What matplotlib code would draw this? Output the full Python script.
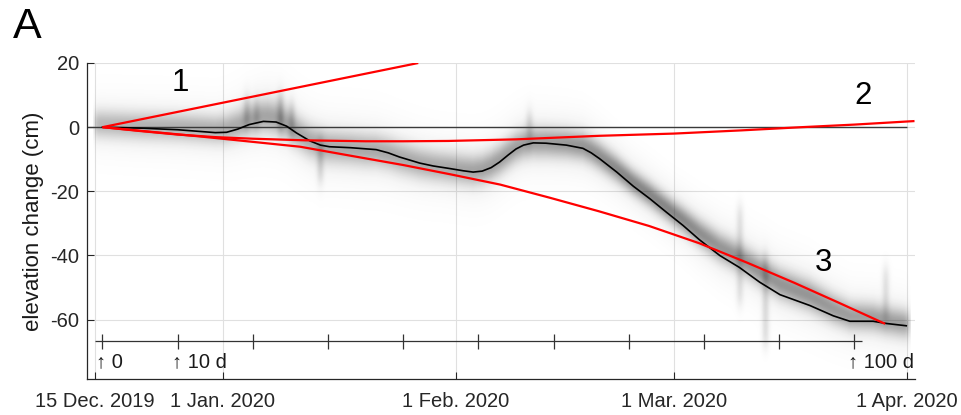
import numpy as np
import matplotlib
matplotlib.use("Agg")
import matplotlib.pyplot as plt
import matplotlib.dates as mdates
from datetime import datetime

plt.rcParams['font.family'] = ['Liberation Sans', 'DejaVu Sans']
plt.rcParams['axes.unicode_minus'] = False

# ---------------------------------------------------------------- data
# day 0 of the record
START = datetime(2019, 12, 16)

# smoothed elevation change: days since start, cm
curve_day = [0, 5, 10, 15, 16.5, 18, 19.5, 21.4, 23.1, 24.5, 25.8, 27.6, 29.0,
             30.2, 33.0, 36.4, 38.0, 39.5, 42.2, 44.0, 46.2, 48.0, 49.3, 50.5,
             51.7, 52.8, 54.0, 55.0, 56.0, 57.3, 59.0, 61.7, 63.9, 65.0, 66.1,
             68.4, 70.6, 72.8, 75.0, 77.2, 79.4, 82.1, 84.7, 87.4, 90.1, 94.1,
             97.2, 99.4, 102.5, 104.3, 106.9]
curve_cm = [0, -0.3, -0.8, -1.7, -1.6, -0.6, 0.8, 1.8, 1.6, 0.3, -1.8, -4.3,
            -5.6, -6.1, -6.4, -7.0, -8.0, -9.3, -11.2, -12.1, -12.9, -13.6,
            -14.0, -13.7, -12.6, -10.9, -8.6, -6.8, -5.6, -4.9, -5.0, -5.6,
            -6.6, -8.0, -9.8, -14.0, -18.4, -22.3, -26.5, -30.6, -35.1, -40.0,
            -43.7, -48.3, -52.2, -55.6, -58.8, -60.5, -60.5, -61.2, -61.9]

# model 1: steady uplift
model1_day = [0, 42]
model1_cm = [0, 20]

# model 2: early settling followed by slow recovery
model2_day = [0, 5, 10, 15, 20, 27, 35, 40, 46, 55, 60, 66, 76, 85, 93, 100, 108]
model2_cm = [0, -1.2, -2.3, -3.1, -3.6, -4.1, -4.4, -4.4, -4.3, -3.8, -3.3,
             -2.7, -2.0, -1.0, 0.0, 0.8, 1.9]

# model 3: accelerating subsidence
model3_day = [0, 13, 26.3, 33, 40, 46.5, 52.9, 59.5, 66, 72.7, 79.4, 85.7, 92,
              98, 104.1]
model3_cm = [0, -2.9, -6.1, -8.9, -11.8, -14.8, -17.9, -22.0, -26.2, -30.8,
             -36.2, -42.2, -48.5, -54.8, -61.3]

# scatter of the individual measurements around the smoothed curve
spread_day = [-1, 5, 15, 22, 27, 35, 45, 52, 58, 64, 70, 76, 82, 88, 94, 100, 107]
spread_shift = [0.8, 0.5, 0.8, 1.5, 0.0, -0.5, 0.0, 0.5, 0.0, 0.5, 1.0, 1.5,
                2.5, 3.5, 3.0, 1.5, 0.5]
spread_sigma = [3.0, 3.0, 3.0, 3.5, 3.5, 3.5, 3.2, 3.2, 3.2, 3.0, 2.6, 2.6,
                3.0, 3.2, 3.2, 3.0, 3.0]
spread_amp = [0.28, 0.30, 0.32, 0.36, 0.34, 0.34, 0.34, 0.38, 0.38, 0.42,
              0.48, 0.48, 0.42, 0.42, 0.42, 0.38, 0.38]

# acquisitions with a wide spread: day, lower cm, upper cm, strength
streak_day = [19.2, 20.5, 23.7, 25.2, 29.0, 56.8, 84.8, 88.2, 104.2]
streak_lo = [0, 0, -1, -3, -17, -4, -55, -68, -60]
streak_hi = [9, 8, 10, 7, -4, 4, -25, -40, -44]
streak_amp = [0.16, 0.12, 0.20, 0.16, 0.16, 0.16, 0.12, 0.14, 0.12]

tick_dates = [datetime(2019, 12, 15), datetime(2020, 1, 1), datetime(2020, 2, 1),
              datetime(2020, 3, 1), datetime(2020, 4, 1)]
tick_labels = ['15 Dec. 2019', '1 Jan. 2020', '1 Feb. 2020', '1 Mar. 2020',
               '1 Apr. 2020']
y_ticks = [-60, -40, -20, 0, 20]
day_ticks = list(range(0, 101, 10))
day_tick_labels = {0: '\u2191 0', 10: '\u2191 10 d', 100: '\u2191 100 d'}
model_labels = ['1', '2', '3']
model_label_pos = [(10.3, 13.9), (101.1, 9.8), (95.9, -42.4)]

# ---------------------------------------------------------------- figure
t0 = mdates.date2num(START)
fig = plt.figure(figsize=(9.62, 4.15), dpi=100)
ax = fig.add_axes([0.0901, 0.0867, 0.8610, 0.7615])

x_left = mdates.date2num(tick_dates[0]) - 1.1
x_right = mdates.date2num(tick_dates[-1]) + 1.06
y_bottom, y_top = -78.5, 20

# measurement cloud rendered as a density image
xs = np.arange(-1.2, 107.6, 0.1)
ys = np.linspace(y_bottom, y_top, 985)
centre = np.interp(xs, curve_day, curve_cm) + np.interp(xs, spread_day, spread_shift)
sig = np.interp(xs, spread_day, spread_sigma)
amp = np.interp(xs, spread_day, spread_amp)
Y = ys[:, None]
dy = (Y - centre[None, :]) / sig[None, :]
dens = amp[None, :] * (np.exp(-0.5 * dy ** 2) + 0.12 * np.exp(-0.5 * (dy / 2.5) ** 2))
for d, lo, hi, a in zip(streak_day, streak_lo, streak_hi, streak_amp):
    col = np.exp(-0.5 * ((xs - d) / 0.35) ** 2)[None, :]
    band = 1 / (1 + np.exp(-(Y - lo) / 1.5)) * 1 / (1 + np.exp(-(hi - Y) / 1.5))
    dens = dens + a * col * band
edge = (1 / (1 + np.exp(-(xs + 1.0) / 0.15))) * (1 / (1 + np.exp(-(107.3 - xs) / 0.2)))
dens = np.clip(dens * edge[None, :], 0, 0.6)
rgba = np.zeros(dens.shape + (4,))
rgba[..., :3] = 0.12
rgba[..., 3] = dens
ax.imshow(rgba, extent=[t0 + xs[0], t0 + xs[-1], ys[0], ys[-1]], origin='lower',
          aspect='auto', interpolation='bilinear', zorder=1)

# zero reference
ax.hlines(0, x_left, mdates.date2num(tick_dates[-1]), color='#3a3a3a', lw=1.0, zorder=2)

# models
for dd, vv in [(model1_day, model1_cm), (model2_day, model2_cm), (model3_day, model3_cm)]:
    ax.plot(t0 + np.asarray(dd), vv, color='#ff0000', lw=1.6, zorder=4,
            solid_capstyle='butt', solid_joinstyle='round')

# smoothed curve
ax.plot(t0 + np.asarray(curve_day), curve_cm, color='black', lw=1.2, zorder=3,
        solid_joinstyle='round')

for lab, (d, v) in zip(model_labels, model_label_pos):
    ax.text(t0 + d, v, lab, fontsize=22.5, ha='center', va='center', zorder=5)

# day scale
scale_level = -66.8
ax.hlines(scale_level, t0 - 1, t0 + 101, color='#333333', lw=0.9, zorder=2)
ax.vlines(t0 + np.asarray(day_ticks), scale_level - 2.3, scale_level + 2.3,
          color='#333333', lw=0.9, zorder=2)
for d, lab in day_tick_labels.items():
    ax.annotate(lab, xy=(t0 + d, scale_level), xytext=(-6, -11),
                textcoords='offset pixels', ha='left', va='top', fontsize=14.5,
                color='#1a1a1a')

# axes styling
ax.set_xlim(x_left, x_right)
ax.set_ylim(y_bottom, y_top)
ax.set_xticks([mdates.date2num(d) for d in tick_dates])
ax.set_xticklabels(tick_labels)
ax.set_yticks(y_ticks)
ax.grid(True, color='#e0e0e0', lw=0.8, zorder=0)
ax.set_axisbelow(True)
for s in ['top', 'right']:
    ax.spines[s].set_visible(False)
for s in ['left', 'bottom']:
    ax.spines[s].set_color('#262626')
    ax.spines[s].set_linewidth(0.9)
ax.tick_params(direction='in', length=5, width=0.8, colors='#262626', labelsize=14.5)
ax.tick_params(axis='x', pad=9)
ax.tick_params(axis='y', pad=5.5)
ax.set_ylabel('elevation change (cm)', fontsize=16, color='#1a1a1a')
ax.yaxis.set_label_coords(-0.052, 0.5)

fig.text(13 / 962, 1 - 38 / 415, 'A', fontsize=31, ha='left', va='baseline')

fig.savefig('out.png', dpi=100)
